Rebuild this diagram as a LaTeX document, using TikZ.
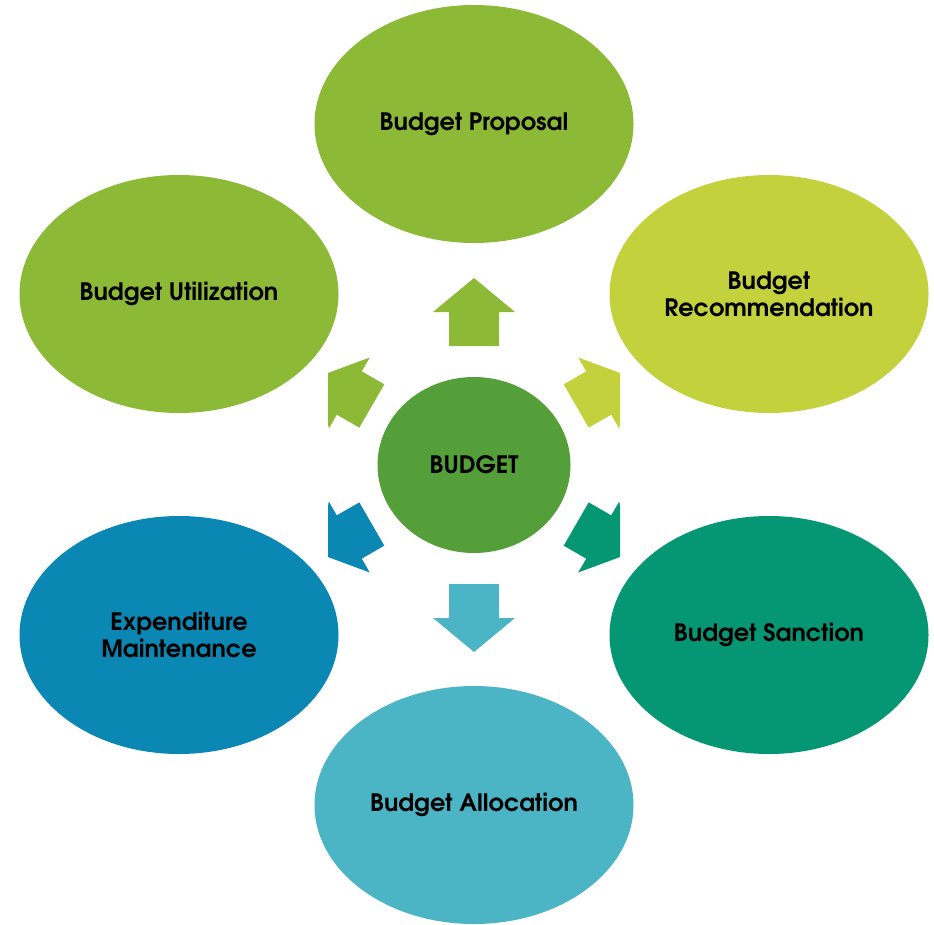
\documentclass[tikz,border=0pt]{standalone}
\usepackage{fontspec}
\setmainfont{TeX Gyre Adventor}
\usetikzlibrary{shapes.geometric}
\definecolor{leafgreen}{HTML}{8CB936}
\definecolor{limegreen}{HTML}{C3D13D}
\definecolor{seagreen}{HTML}{059674}
\definecolor{skyteal}{HTML}{4BB5C6}
\definecolor{oceanblue}{HTML}{0A87B2}
\definecolor{coregreen}{HTML}{549F3A}
\tikzset{
  stage/.style={ellipse, minimum width=319pt, minimum height=238pt, inner sep=0pt,
    align=center, font=\fontsize{24}{27}\selectfont\bfseries},
  core/.style={ellipse, minimum width=193pt, minimum height=176pt, inner sep=0pt,
    font=\fontsize{24}{27}\selectfont\bfseries},
}
\begin{document}
\begin{tikzpicture}[x=1pt, y=-1pt]
  \useasboundingbox (0,0) rectangle (934,924);
  % outer stages
  \node[stage, fill=leafgreen] (proposal) at (474,124) {Budget Proposal};
  \node[stage, fill=limegreen] (recommendation) at (769,294) {Budget\\Recommendation};
  \node[stage, fill=seagreen] (sanction) at (769,635) {Budget Sanction};
  \node[stage, fill=skyteal] (allocation) at (474,805) {Budget Allocation};
  \node[stage, fill=oceanblue] (expenditure) at (179,635) {Expenditure\\Maintenance};
  \node[stage, fill=leafgreen] (utilization) at (179,294) {Budget Utilization};
  % centre
  \node[core, fill=coregreen] (budget) at (474,465) {BUDGET};
  % block arrows, cut off at the sides
  \begin{scope}
    \clip (328,0) rectangle (620,924);
    \foreach \ang/\col/\s/\b/\t in {90/leafgreen/119/153/187, 30/limegreen/118/144/178,
        330/seagreen/118/144/178, 270/skyteal/119/153/187,
        210/oceanblue/118/144/178, 150/leafgreen/118/144/178}
      \fill[\col, shift={(budget.center)}, rotate=\ang]
        (\s,-25) -- (\b,-25) -- (\b,-41) -- (\t,0) -- (\b,41) -- (\b,25) -- (\s,25) -- cycle;
  \end{scope}
\end{tikzpicture}
\end{document}
